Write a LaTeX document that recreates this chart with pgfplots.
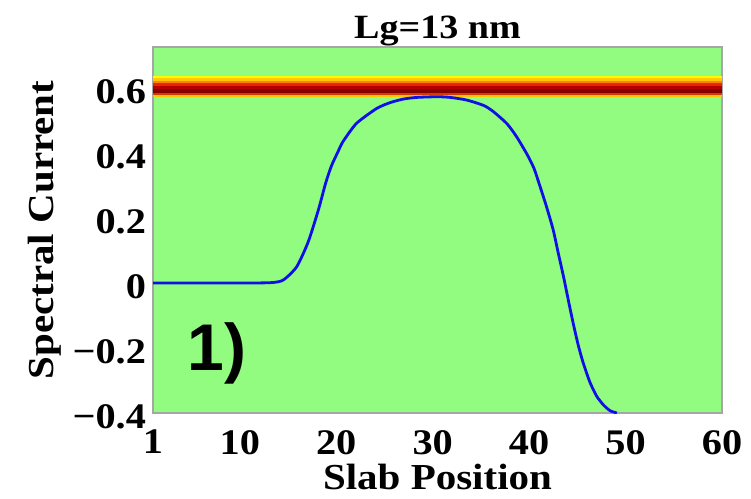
\documentclass[border=0pt]{standalone}
\usepackage{fontspec}
\setmainfont{Liberation Serif}[FakeStretch=1.12]
\newfontfamily\arialbold{Liberation Sans}
\usepackage{pgfplots}
\pgfplotsset{compat=1.18}
\definecolor{bggreen}{RGB}{146,252,128}
\definecolor{curve}{RGB}{16,16,230}
\definecolor{b1}{RGB}{255,250,0}
\definecolor{b2}{RGB}{255,200,0}
\definecolor{b3}{RGB}{255,130,0}
\definecolor{b4}{RGB}{230,40,0}
\definecolor{b5}{RGB}{185,0,0}
\definecolor{b6}{RGB}{135,0,0}
\definecolor{b7}{RGB}{210,60,0}
\definecolor{b8}{RGB}{250,200,0}
\begin{document}
\begin{tikzpicture}
\begin{axis}[
  name=ax,
  scale only axis, width=284.5pt, height=183pt,
  xmin=1, xmax=60, ymin=-0.4, ymax=0.726,
  xtick={1,10,20,30,40,50,60},
  ytick={-0.4,-0.2,0,0.2,0.4,0.6},
  yticklabels={−0.4,−0.2,0,0.2,0.4,0.6},
  /pgf/number format/assume math mode=true,
  major tick length=0pt,
  tick label style={font=\fontsize{18}{20}\selectfont\bfseries},
  xticklabel style={yshift=-5pt},
  yticklabel style={xshift=0pt, yshift=-2pt},
  axis background/.style={fill=bggreen},
  axis line style={draw=gray!70, line width=0.6pt},
  title={Lg=13 nm},
  title style={font=\fontsize{17}{19}\selectfont\bfseries, yshift=-9pt},
  xlabel={Slab Position},
  ylabel={Spectral Current},
  label style={font=\fontsize{18.3}{20}\selectfont\bfseries},
  xlabel style={yshift=2pt},
  ylabel style={yshift=-1pt},
  clip=true,
]
% colour band
\addplot[fill=b1, draw=none] coordinates {(1,0.630)(60,0.630)(60,0.638)(1,0.638)} -- cycle;
\addplot[fill=b2, draw=none] coordinates {(1,0.622)(60,0.622)(60,0.630)(1,0.630)} -- cycle;
\addplot[fill=b3, draw=none] coordinates {(1,0.614)(60,0.614)(60,0.622)(1,0.622)} -- cycle;
\addplot[fill=b4, draw=none] coordinates {(1,0.605)(60,0.605)(60,0.614)(1,0.614)} -- cycle;
\addplot[fill=b5, draw=none] coordinates {(1,0.596)(60,0.596)(60,0.605)(1,0.605)} -- cycle;
\addplot[fill=b6, draw=none] coordinates {(1,0.583)(60,0.583)(60,0.596)(1,0.596)} -- cycle;
\addplot[fill=b7, draw=none] coordinates {(1,0.578)(60,0.578)(60,0.583)(1,0.583)} -- cycle;
\addplot[fill=b8, draw=none] coordinates {(1,0.573)(60,0.573)(60,0.578)(1,0.578)} -- cycle;
% spectral current
\addplot[curve, line width=1.4pt, smooth, tension=0.4] coordinates {
 (1,0)(5,0)(10,0)(13.2,0.001)(14.5,0.009)(15.9,0.05)(17.1,0.127)(18.15,0.225)
 (18.9,0.307)(19.5,0.36)(20.2,0.405)(20.7,0.435)(22.1,0.491)(24.2,0.537)
 (25.6,0.555)(27.0,0.566)(28.4,0.571)(30.5,0.573)(31.8,0.571)(33.5,0.563)
 (35.3,0.546)(36.3,0.527)(37.7,0.49)(38.7,0.45)(39.8,0.395)(40.5,0.353)
 (41.1,0.30)(41.8,0.235)(42.5,0.163)(43.0,0.095)(43.6,0.015)(44.1,-0.058)
 (44.6,-0.128)(45.1,-0.192)(45.6,-0.245)(46.3,-0.305)(47.0,-0.348)
 (47.7,-0.375)(48.4,-0.393)(49.1,-0.40)};
\node[font=\arialbold\fontsize{33}{35}\selectfont\bfseries] at (axis cs:7.6,-0.218) {1)};
\end{axis}
\pgfresetboundingbox
\path ([shift={(-76.5pt,-42.5pt)}]ax.south west) rectangle ([shift={(14.5pt,23.5pt)}]ax.north east);
\end{tikzpicture}
\end{document}
